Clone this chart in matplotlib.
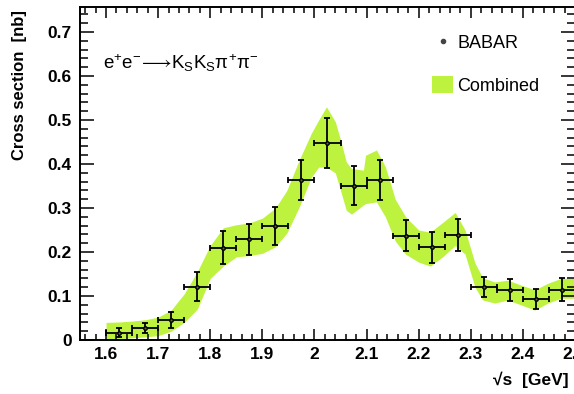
import matplotlib
matplotlib.use("Agg")
import matplotlib.pyplot as plt
from matplotlib.lines import Line2D
from matplotlib.patches import Patch
from matplotlib.ticker import MultipleLocator

plt.rcParams["font.family"] = ["Liberation Sans", "DejaVu Sans"]
plt.rcParams["mathtext.fontset"] = "custom"
plt.rcParams["mathtext.rm"] = "Liberation Sans"
plt.rcParams["mathtext.it"] = "Liberation Sans:italic"
plt.rcParams["mathtext.fallback"] = "stixsans"

# BABAR measurement, 50 MeV bins
energy = [1.625, 1.675, 1.725, 1.775, 1.825, 1.875, 1.925, 1.975, 2.025,
          2.075, 2.125, 2.175, 2.225, 2.275, 2.325, 2.375, 2.425, 2.475]
xsec = [0.017, 0.027, 0.045, 0.121, 0.210, 0.229, 0.259, 0.364, 0.448,
        0.351, 0.364, 0.237, 0.211, 0.239, 0.121, 0.114, 0.093, 0.114]
xsec_err = [0.010, 0.012, 0.018, 0.033, 0.037, 0.035, 0.043, 0.045, 0.057,
            0.045, 0.046, 0.035, 0.035, 0.037, 0.023, 0.025, 0.023, 0.026]
bin_half = [0.025] * len(energy)

# combined band (lower / upper edge)
band_x = [1.600, 1.625, 1.650, 1.675, 1.700, 1.725, 1.750, 1.775, 1.800,
          1.825, 1.850, 1.875, 1.900, 1.925, 1.947, 1.971, 1.994, 2.008,
          2.023, 2.040, 2.050, 2.061, 2.071, 2.094, 2.098, 2.119, 2.136,
          2.155, 2.175, 2.200, 2.222, 2.247, 2.270, 2.289, 2.308, 2.323,
          2.346, 2.371, 2.396, 2.423, 2.448, 2.473, 2.500]
band_hi = [0.040, 0.041, 0.043, 0.046, 0.052, 0.068, 0.105, 0.155, 0.215,
           0.255, 0.262, 0.266, 0.277, 0.300, 0.340, 0.410, 0.470, 0.500,
           0.530, 0.496, 0.455, 0.405, 0.390, 0.386, 0.420, 0.432, 0.394,
           0.320, 0.280, 0.250, 0.245, 0.268, 0.290, 0.250, 0.175, 0.141,
           0.132, 0.136, 0.125, 0.114, 0.129, 0.140, 0.140]
band_lo = [0.000, 0.003, 0.005, 0.007, 0.010, 0.020, 0.040, 0.070, 0.140,
           0.168, 0.189, 0.192, 0.197, 0.212, 0.243, 0.303, 0.370, 0.393,
           0.393, 0.380, 0.340, 0.295, 0.286, 0.307, 0.310, 0.314, 0.280,
           0.225, 0.195, 0.177, 0.168, 0.190, 0.215, 0.195, 0.120, 0.091,
           0.084, 0.091, 0.080, 0.068, 0.084, 0.095, 0.095]

band_color = "#bdf23f"

fig = plt.figure(figsize=(5.74, 3.94), dpi=100)
ax = fig.add_axes([80 / 574, 54 / 394, 495 / 574, 333 / 394])

ax.fill_between(band_x, band_lo, band_hi, color=band_color, lw=0, zorder=1)
ax.errorbar(energy, xsec, yerr=xsec_err, xerr=bin_half, fmt="o", ms=2.5,
            color="black", mfc="#556b2f", mec="black", elinewidth=1.3,
            capsize=2.5, capthick=1.3, zorder=3)

ax.set_xlim(1.55, 2.5)
ax.set_ylim(0, 0.757)

ax.xaxis.set_major_locator(MultipleLocator(0.1))
ax.xaxis.set_minor_locator(MultipleLocator(0.02))
ax.yaxis.set_major_locator(MultipleLocator(0.1))
ax.yaxis.set_minor_locator(MultipleLocator(0.02))
ax.xaxis.set_major_formatter(plt.FuncFormatter(lambda v, p: f"{v:g}"))
ax.yaxis.set_major_formatter(plt.FuncFormatter(lambda v, p: f"{v:g}"))

ax.tick_params(which="both", direction="in", top=True, right=True, width=1.1,
               labelsize=12.5)
ax.tick_params(axis="x", which="major", length=8, pad=5)
ax.tick_params(axis="x", which="minor", length=4)
ax.tick_params(axis="y", which="major", length=10, pad=6)
ax.tick_params(axis="y", which="minor", length=6)
for lab in ax.get_xticklabels() + ax.get_yticklabels():
    lab.set_fontweight("bold")
for sp in ax.spines.values():
    sp.set_linewidth(1.4)

ax.text(0.046, 0.832,
        r"$\mathregular{e^{+}e^{-}\!\longrightarrow\! K_{S}K_{S}\pi^{+}\pi^{-}}$",
        transform=ax.transAxes, fontsize=13.5, ha="left", va="center")

handles = [Line2D([], [], ls="none", marker="o", ms=3, color="#444444"),
           Patch(facecolor=band_color, edgecolor="none")]
ax.legend(handles, ["BABAR", "Combined"], loc="upper left",
          bbox_to_anchor=(0.711, 0.92), frameon=False, fontsize=13,
          borderpad=0, borderaxespad=0, handlelength=1.17, handleheight=1.1,
          handletextpad=0.25, labelspacing=1.3)

fig.text(20 / 574, 1 - 10 / 394, "Cross section  [nb]", rotation=90,
         ha="center", va="top", fontsize=12, fontweight="bold")
fig.text(493 / 574, 1 - 380 / 394, "√s  [GeV]", ha="left", va="center",
         fontsize=12.5, fontweight="bold")

fig.savefig("out.png", dpi=100)
